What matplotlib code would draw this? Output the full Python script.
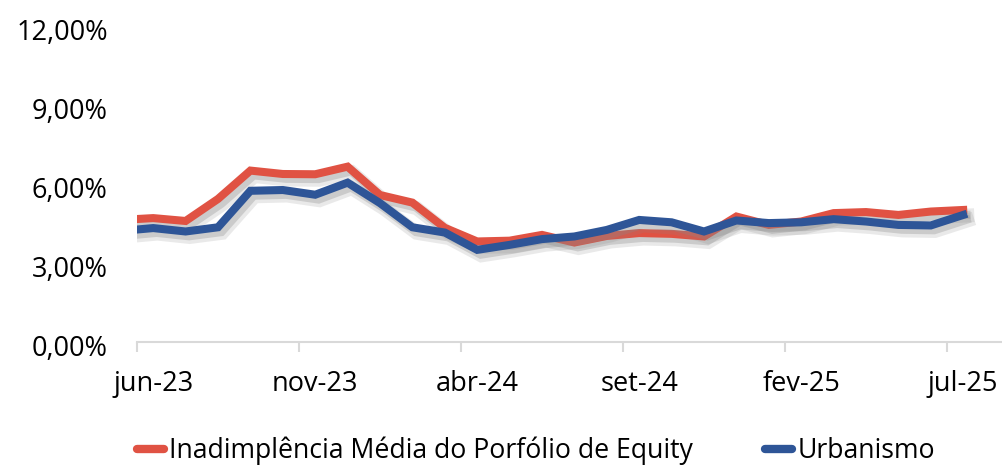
import numpy as np
import matplotlib
matplotlib.use("Agg")
import matplotlib.pyplot as plt
import matplotlib.patheffects as pe
import matplotlib.transforms as mtransforms
from matplotlib.ticker import FixedLocator, FuncFormatter

plt.rcParams['font.family'] = ['Open Sans', 'DejaVu Sans']

# months (first one only shows as the short stub at the left edge)
months = ['mai-23', 'jun-23', 'jul-23', 'ago-23', 'set-23', 'out-23', 'nov-23', 'dez-23',
          'jan-24', 'fev-24', 'mar-24', 'abr-24', 'mai-24', 'jun-24', 'jul-24', 'ago-24',
          'set-24', 'out-24', 'nov-24', 'dez-24', 'jan-25', 'fev-25', 'mar-25', 'abr-25',
          'mai-25', 'jun-25', 'jul-25']

portfolio = [4.65, 4.72, 4.61, 5.45, 6.53, 6.40, 6.39, 6.68, 5.60, 5.31, 4.35, 3.83, 3.86, 4.08,
             3.79, 4.04, 4.15, 4.12, 4.02, 4.78, 4.46, 4.59, 4.91, 4.95, 4.84, 4.97, 5.03]
urbanismo = [4.23, 4.34, 4.21, 4.37, 5.76, 5.79, 5.61, 6.07, 5.29, 4.37, 4.17, 3.51, 3.70, 3.92,
             4.02, 4.27, 4.65, 4.56, 4.21, 4.63, 4.53, 4.56, 4.68, 4.59, 4.46, 4.44, 4.84]

label_red = "Inadimplência Média do Porfólio de Equity"
label_blue = "Urbanismo"
red = "#E05243"
blue = "#2E5597"

x = np.arange(len(months))
W, H = 1002, 467
fig = plt.figure(figsize=(W/100, H/100), dpi=100)
left, bottom, top = 137, 342, 27
px_per = 32.4
x0, x1 = 0.5, 27.5
ax = fig.add_axes([left/W, 1-bottom/H, (x1-x0)*px_per/W, (bottom-top)/H])

shadow = [pe.SimpleLineShadow(offset=(3, -4), shadow_color='#888888', alpha=0.18, linewidth=10),
          pe.SimpleLineShadow(offset=(2.5, -3.5), shadow_color='#888888', alpha=0.3),
          pe.Normal()]

ax.plot(x, np.array(portfolio)/100, color=red, lw=5.8, label=label_red,
        solid_joinstyle='miter', path_effects=shadow, zorder=3)
ax.plot(x, np.array(urbanismo)/100, color=blue, lw=5.8, label=label_blue,
        solid_joinstyle='miter', path_effects=shadow, zorder=4)

ax.set_xlim(x0, x1)
ax.set_ylim(0, 0.12)
ax.set_yticks([0, 0.03, 0.06, 0.09, 0.12])
ax.yaxis.set_major_formatter(FuncFormatter(lambda v, p: f"{v*100:.2f}%".replace('.', ',')))

lab_idx = list(range(1, len(months), 5))
ax.set_xticks(lab_idx)
ax.set_xticklabels([months[i] for i in lab_idx])
ax.xaxis.set_minor_locator(FixedLocator([i - 0.5 for i in lab_idx]))

for s in ['top', 'right', 'left']:
    ax.spines[s].set_visible(False)
ax.spines['bottom'].set_color('#D9D9D9')
ax.spines['bottom'].set_linewidth(1.5)
ax.tick_params(axis='x', which='major', length=0, pad=20, labelsize=19.5, colors='#000000')
ax.tick_params(axis='x', which='minor', length=7.5, width=1.5, color='#D9D9D9')
ax.tick_params(axis='y', length=0, pad=21, labelsize=19.5)
shift = mtransforms.ScaledTranslation(0, -3/100, fig.dpi_scale_trans)
for t in ax.get_yticklabels():
    t.set_transform(t.get_transform() + shift)

leg = fig.legend(loc='center', bbox_to_anchor=(536/W, 1-451/H), ncol=2, frameon=False,
                 fontsize=19.2, handlelength=1.0, handletextpad=0.2, columnspacing=2.7)
for h in leg.get_lines():
    h.set_linewidth(6)
    h.set_solid_capstyle('round')
    h.set_path_effects([])

fig.savefig("out.png", dpi=100)
